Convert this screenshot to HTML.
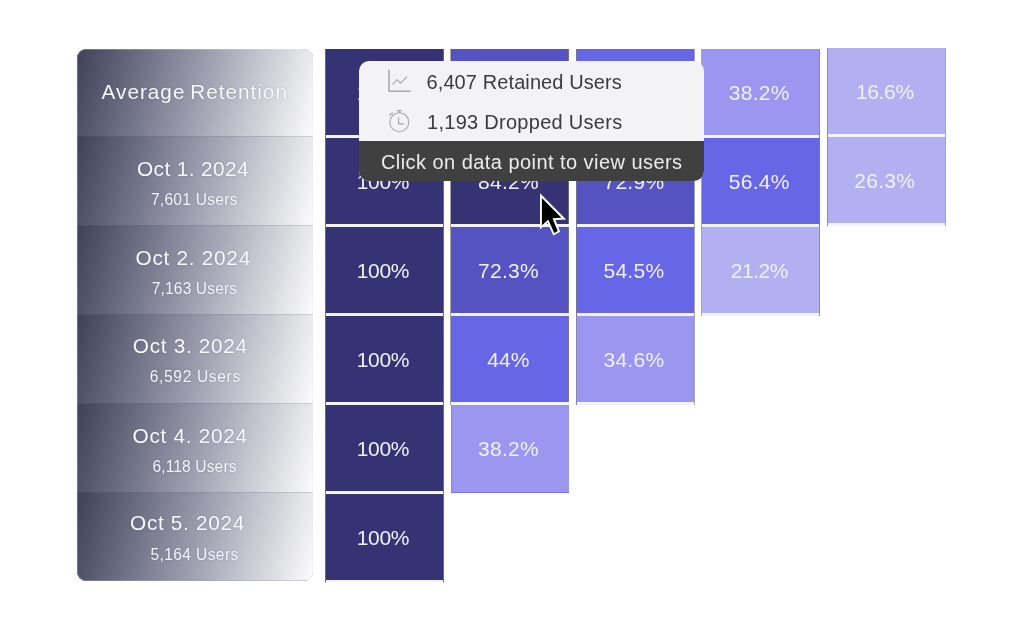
<!DOCTYPE html>
<html lang="en">
<head>
<meta charset="utf-8">
<title>Retention cohort</title>
<style>
*{box-sizing:border-box;margin:0;padding:0}
html,body{width:1024px;height:630px;background:#fff;overflow:hidden}
body{position:relative;font-family:"Liberation Sans",sans-serif;color:#fff}
.panel{position:absolute;left:77px;top:48.6px;width:235.6px;height:532.8px;border-radius:9px;overflow:hidden;background:#8f90a3}
.panel::after{content:"";position:absolute;inset:0;border-radius:9px;box-shadow:inset 0 0 0 1px rgba(225,225,235,.28)}
.prow{position:absolute;left:0;width:100%;height:88.8px;background:linear-gradient(105deg,#3f4158 0%,#6c6e84 25%,#9a9bac 50%,#cbccd4 75%,#fafafb 99%);box-shadow:inset 0 -1px 0 rgba(45,47,75,.22)}
.t1{position:absolute;white-space:nowrap;font-size:20.8px;line-height:24px;letter-spacing:.55px;color:#fbfbfd;text-shadow:0 0 1.5px rgba(70,72,110,.45)}
.t2{position:absolute;white-space:nowrap;font-size:15.6px;line-height:18px;letter-spacing:.35px;color:#f6f6fa;text-shadow:0 0 1.5px rgba(70,72,110,.45)}
.t0{position:absolute;white-space:nowrap;font-size:20.7px;line-height:24px;letter-spacing:1.02px;word-spacing:-2px;color:#fbfbfd;text-shadow:0 0 1.5px rgba(70,72,110,.45)}
.c{position:absolute;width:118.4px;height:88.7px;text-align:center;font-size:21px;letter-spacing:-.3px;line-height:85.85px;color:#f1f0fb}
.c::before{content:"";position:absolute;left:-.3px;right:-.3px;top:0;bottom:-.6px;background:linear-gradient(to right,rgba(125,125,132,.7) .8px,transparent .8px,transparent calc(100% - .8px),rgba(125,125,132,.7) calc(100% - .8px))}
.c::after{content:"";position:absolute;left:.5px;right:.5px;bottom:0;height:2.6px;background:#f3f3f3}
.c.n{letter-spacing:.28px}
.c.last{height:88.1px;box-shadow:inset 0 -1.1px 0 #7572e4,inset 1.2px 0 0 #8783ee}
.c.last::after,.c.last::before{display:none}
.c span{position:relative;z-index:1;top:1.1px;left:-1.4px}
.d0{background:#363375}
.d1{background:#5552c1}
.d2{background:#6766e6}
.d3{background:#9b97f0}
.d4{background:#b3b0f2}
.tip{z-index:5;position:absolute;left:359px;top:60.5px;width:345px;height:120px;border-radius:10px;overflow:hidden;background:#f3f3f5;color:#3b3b3b;font-size:20px}
.tip .l{position:absolute;left:67.5px;height:40px;line-height:40px;white-space:nowrap;letter-spacing:.1px}
.tip .dark{position:absolute;left:0;top:80px;width:100%;height:40px;background:#404040;color:#ececec;text-align:center;line-height:43px;white-space:nowrap;letter-spacing:.45px;padding-left:.5px}
svg{position:absolute;overflow:visible}
</style>
</head>
<body>
<div class="panel">
 <div class="prow" style="top:0"></div>
 <div class="prow" style="top:88.8px"></div>
 <div class="prow" style="top:177.6px"></div>
 <div class="prow" style="top:266.4px"></div>
 <div class="prow" style="top:355.2px"></div>
 <div class="prow" style="top:444px"></div>
</div>
<div class="t0" style="left:101.6px;top:79.6px">Average Retention</div>
 <div class="t1" style="left:137.0px;top:156.8px;letter-spacing:0.41px">Oct 1. 2024</div><div class="t2" style="left:150.9px;top:191.3px;letter-spacing:0.25px">7,601 Users</div>
 <div class="t1" style="left:135.5px;top:245.8px;letter-spacing:0.72px">Oct 2. 2024</div><div class="t2" style="left:151.8px;top:280.3px;letter-spacing:0.12px">7,163 Users</div>
 <div class="t1" style="left:132.8px;top:333.8px;letter-spacing:0.68px">Oct 3. 2024</div><div class="t2" style="left:149.7px;top:368.3px;letter-spacing:0.65px">6,592 Users</div>
 <div class="t1" style="left:132.6px;top:423.8px;letter-spacing:0.7px">Oct 4. 2024</div><div class="t2" style="left:152.4px;top:458.3px;letter-spacing:0.12px">6,118 Users</div>
 <div class="t1" style="left:130.1px;top:511.0px;letter-spacing:0.66px">Oct 5. 2024</div><div class="t2" style="left:150.5px;top:545.5px;letter-spacing:0.37px">5,164 Users</div>

<!-- column 1 -->
<div class="c d0" style="left:325.2px;top:49.40px"><span>100%</span></div>
<div class="c d0" style="left:325.2px;top:138.25px"><span>100%</span></div>
<div class="c d0" style="left:325.2px;top:227.10px"><span>100%</span></div>
<div class="c d0" style="left:325.2px;top:315.95px"><span>100%</span></div>
<div class="c d0" style="left:325.2px;top:404.80px"><span>100%</span></div>
<div class="c d0" style="left:325.2px;top:493.65px"><span>100%</span></div>
<!-- column 2 -->
<div class="c d1 n" style="left:450.65px;top:49.40px"><span>65.4%</span></div>
<div class="c d0 n" style="left:450.65px;top:138.25px"><span>84.2%</span></div>
<div class="c d1 n" style="left:450.65px;top:227.10px"><span>72.3%</span></div>
<div class="c d2" style="left:450.65px;top:315.95px"><span style="letter-spacing:.1px">44%</span></div>
<div class="c d3 n last" style="left:450.65px;top:404.80px"><span>38.2%</span></div>
<!-- column 3 -->
<div class="c d2 n" style="left:576.1px;top:49.40px"><span>54.1%</span></div>
<div class="c d1 n" style="left:576.1px;top:138.25px"><span>72.9%</span></div>
<div class="c d2 n" style="left:576.1px;top:227.10px"><span>54.5%</span></div>
<div class="c d3 n" style="left:576.1px;top:315.95px"><span>34.6%</span></div>
<!-- column 4 -->
<div class="c d3 n" style="left:701.5px;top:49.40px"><span>38.2%</span></div>
<div class="c d2 n" style="left:701.5px;top:138.25px"><span>56.4%</span></div>
<div class="c d4 n" style="left:701.5px;top:227.10px"><span style="letter-spacing:-.5px">21.2%</span></div>
<!-- column 5 -->
<div class="c d4 n" style="left:827.0px;top:48.30px;letter-spacing:-.35px"><span>16.6%</span></div>
<div class="c d4 n" style="left:827.0px;top:137.15px"><span>26.3%</span></div>

<div class="tip">
 <div class="l" style="top:1.5px">6,407 Retained Users</div>
 <div class="l" style="top:41.5px;left:68px;letter-spacing:.28px">1,193 Dropped Users</div>
 <div class="dark">Click on data point to view users</div>
 <svg width="30" height="30" style="left:0;top:0" fill="none" stroke="#a9a9ac" stroke-linecap="round" stroke-linejoin="round">
  <path d="M30 9.3V30.3H51.1" stroke-width="1.6"/>
  <path d="M34 23.2L37.9 18.7L41.5 22.2L47.7 16" stroke-width="1.15"/>
  <circle cx="40.3" cy="61.2" r="9.5" stroke-width="1.15"/>
  <path d="M38.2 49.7H42.4M40.3 49.7V51.6M30.6 53.9L33.4 51.9" stroke-width="1.2"/>
  <path d="M39.6 56.9V62.8H44.5" stroke-width="1.25"/>
 </svg>
</div>

<svg width="40" height="50" style="left:0;top:0;z-index:6">
 <path d="M540 193.3V229.4L547.6 222.8L553.3 235.6L560.2 231.7L555.4 220.1L566.1 219.4Z" fill="#fff"/>
 <path d="M541.9 197.9V225.3L548.3 219.8L554.2 232.9L557.7 230.9L552.5 218.3L561.4 217.7Z" fill="#000"/>
</svg>
</body>
</html>
